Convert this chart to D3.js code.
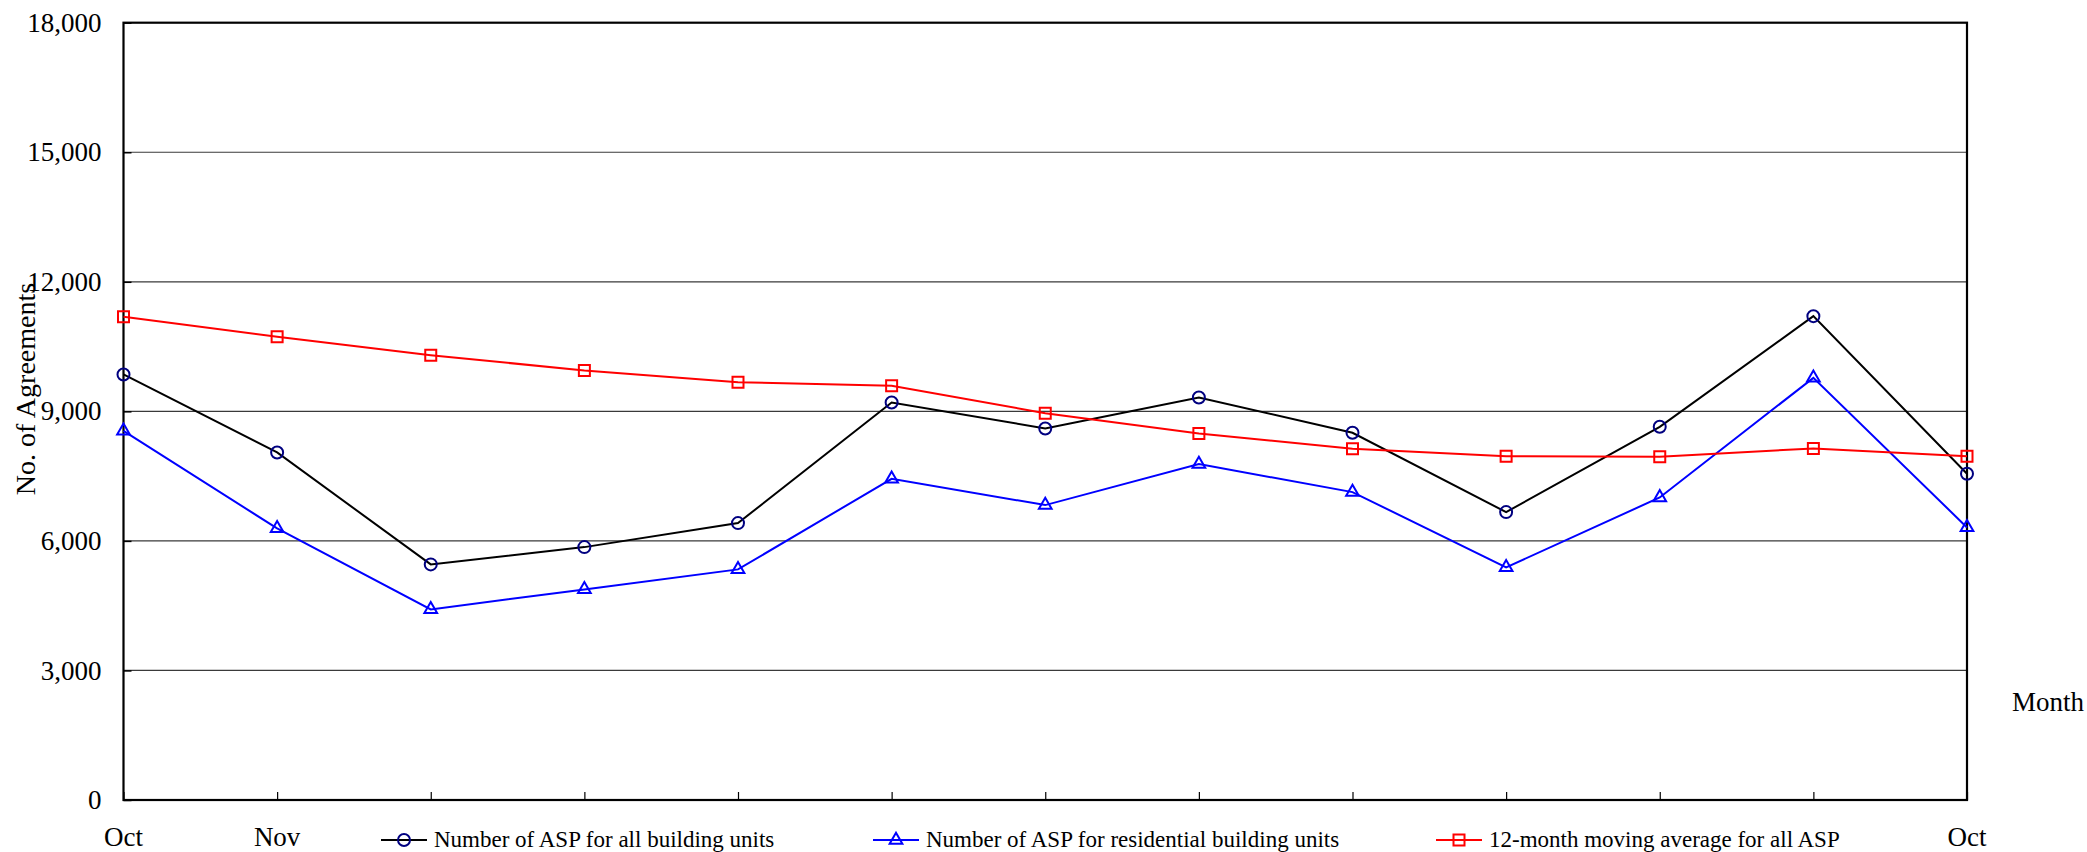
<!DOCTYPE html>
<html>
<head>
<meta charset="utf-8">
<script src="https://cdn.jsdelivr.net/npm/d3@7"></script>
<style>
  html, body { margin: 0; padding: 0; background: #fff; }
  svg { display: block; font-family: "Liberation Serif", "Times New Roman", serif; }
</style>
</head>
<body>
<div id="chart"></div>
<script>
// Monthly ASP counts, Oct to Oct
var months = ["Oct", "Nov", "Dec", "Jan", "Feb", "Mar", "Apr", "May", "Jun", "Jul", "Aug", "Sep", "Oct"];
var allUnits = [9854, 8048, 5456, 5856, 6412, 9205, 8604, 9321, 8503, 6667, 8642, 11204, 7554];
var residentialUnits = [8549, 6289, 4414, 4877, 5340, 7438, 6829, 7778, 7130, 5386, 7006, 9776, 6312];
var movingAverage = [11188, 10725, 10301, 9946, 9676, 9591, 8958, 8488, 8133, 7963, 7948, 8141, 7963];
var yTicks = [0, 3000, 6000, 9000, 12000, 15000, 18000];
var seriesNames = [
    "Number of ASP for all building units",
    "Number of ASP for residential building units",
    "12-month moving average for all ASP"
];

var svgWidth = 2087;
var svgHeight = 852;
var plotLeft = 123.5, plotRight = 1967, plotTop = 22.7, plotBottom = 800;

var svg = d3.select('#chart')
            .append('svg')
            .attr('width', svgWidth)
            .attr('height', svgHeight);

// Scales
var x = d3.scalePoint()
          .domain(d3.range(months.length))
          .range([plotLeft, plotRight]);

var y = d3.scaleLinear()
          .domain([0, 18000])
          .range([plotBottom, plotTop]);

// Gridlines
svg.append('g')
   .selectAll('line')
   .data(yTicks.filter(function(d) { return d > 0 && d < 18000; }))
   .enter()
   .append('line')
   .attr('x1', plotLeft)
   .attr('x2', plotRight)
   .attr('y1', function(d) { return y(d); })
   .attr('y2', function(d) { return y(d); })
   .attr('stroke', '#3a3a3a')
   .attr('stroke-width', 1.2);

// Y axis (ticks inside, labels on the left)
var yAxis = d3.axisLeft(y)
              .tickValues(yTicks)
              .tickSize(-8)
              .tickPadding(22)
              .tickFormat(d3.format(','));
var yAxisG = svg.append('g')
                .attr('transform', 'translate(' + plotLeft + ',0)')
                .call(yAxis);
yAxisG.select('.domain').remove();
yAxisG.selectAll('.tick line').attr('stroke', '#000').attr('stroke-width', 1.5);
yAxisG.selectAll('.tick text')
      .attr('font-size', 27)
      .attr('font-family', '"Liberation Serif", "Times New Roman", serif')
      .attr('fill', '#000');

// X axis ticks inside the plot
var xAxis = d3.axisBottom(x)
              .tickSize(-8)
              .tickFormat('');
var xAxisG = svg.append('g')
                .attr('transform', 'translate(0,' + plotBottom + ')')
                .call(xAxis);
xAxisG.select('.domain').remove();
xAxisG.selectAll('.tick line').attr('stroke', '#000').attr('stroke-width', 1.2);

// Plot frame
svg.append('rect')
   .attr('x', plotLeft)
   .attr('y', plotTop)
   .attr('width', plotRight - plotLeft)
   .attr('height', plotBottom - plotTop)
   .attr('fill', 'none')
   .attr('stroke', '#000')
   .attr('stroke-width', 2.2);

// Series
var series = [
    { name: seriesNames[0], values: allUnits, line: '#000000', marker: '#000080', symbol: d3.symbolCircle, size: 113 },
    { name: seriesNames[1], values: residentialUnits, line: '#0000ff', marker: '#0000ff', symbol: d3.symbolTriangle, size: 70 },
    { name: seriesNames[2], values: movingAverage, line: '#ff0000', marker: '#ff0000', symbol: d3.symbolSquare, size: 121 }
];

var line = d3.line()
             .x(function(d, i) { return x(i); })
             .y(function(d) { return y(d); });

series.forEach(function(s) {
    svg.append('path')
       .datum(s.values)
       .attr('d', line)
       .attr('fill', 'none')
       .attr('stroke', s.line)
       .attr('stroke-width', 2);

    svg.append('g')
       .selectAll('path')
       .data(s.values)
       .enter()
       .append('path')
       .attr('d', d3.symbol().type(s.symbol).size(s.size))
       .attr('transform', function(d, i) { return 'translate(' + x(i) + ',' + y(d) + ')'; })
       .attr('fill', 'none')
       .attr('stroke', s.marker)
       .attr('stroke-width', 2);
});

// Legend along the bottom, over the middle month labels
var legendY = 840;
var legendStarts = [381, 873, 1436];
var legendLeft = legendStarts[0] - 10;
var legendRight = 1850;

series.forEach(function(s, i) {
    var g = svg.append('g').attr('transform', 'translate(' + legendStarts[i] + ',' + legendY + ')');
    g.append('line')
     .attr('x1', 0).attr('x2', 46)
     .attr('y1', 0).attr('y2', 0)
     .attr('stroke', s.line)
     .attr('stroke-width', 2);
    g.append('path')
     .attr('d', d3.symbol().type(s.symbol).size(s.size))
     .attr('transform', 'translate(23,0)')
     .attr('fill', 'none')
     .attr('stroke', s.marker)
     .attr('stroke-width', 2);
    g.append('text')
     .attr('x', 53)
     .attr('y', 7)
     .attr('font-size', 23)
     .attr('fill', '#000')
     .text(s.name);
});

// Month labels, only where the legend leaves room
svg.append('g')
   .selectAll('text')
   .data(months.map(function(m, i) { return { label: m, i: i }; })
              .filter(function(d) { return x(d.i) < legendLeft || x(d.i) > legendRight; }))
   .enter()
   .append('text')
   .attr('x', function(d) { return x(d.i); })
   .attr('y', 846)
   .attr('text-anchor', 'middle')
   .attr('font-size', 27)
   .attr('fill', '#000')
   .text(function(d) { return d.label; });

// Axis titles
svg.append('text')
   .attr('transform', 'rotate(-90)')
   .attr('x', -389)
   .attr('y', 35)
   .attr('text-anchor', 'middle')
   .attr('font-size', 28)
   .attr('fill', '#000')
   .text('No. of Agreements');

svg.append('text')
   .attr('x', 2012)
   .attr('y', 711)
   .attr('font-size', 27)
   .attr('fill', '#000')
   .text('Month');
</script>
</body>
</html>
